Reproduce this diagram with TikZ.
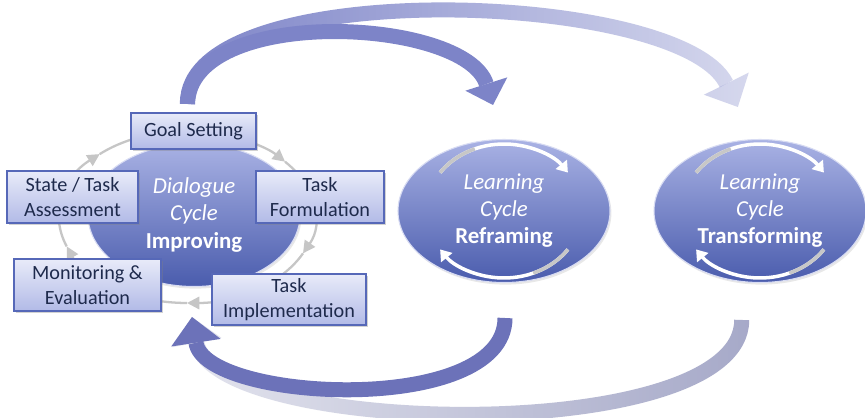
\documentclass[tikz,border=0pt]{standalone}
\usepackage{fontspec}
\setsansfont{Carlito}
\usetikzlibrary{arrows.meta, positioning, shapes.geometric, shadows, fadings}

\definecolor{cycblueA}{HTML}{A9B2E4}
\definecolor{cycblueB}{HTML}{4A5CAD}
\definecolor{boxtop}{HTML}{E8EBF9}
\definecolor{boxbot}{HTML}{B2BAE7}
\definecolor{boxline}{HTML}{5668B8}
\definecolor{boxtext}{HTML}{1E2A4C}
\definecolor{bigarrow}{HTML}{7D84C8}
\definecolor{bigarrowdk}{HTML}{6C72B9}
\definecolor{greyarrow}{HTML}{A2A5C6}
\definecolor{ringgrey}{HTML}{C6C6C6}

\tikzfading[name=fade east, left color=transparent!0, right color=transparent!68]
\tikzfading[name=fade west, left color=transparent!70, right color=transparent!5]

\begin{document}
\begin{tikzpicture}[
  font=\sffamily,
  x=1cm, y=1cm,
  cycle/.style={
    ellipse, minimum width=4.24cm, minimum height=2.86cm, inner sep=0pt,
    top color=cycblueA, bottom color=cycblueB, draw=white!55!cycblueA, line width=0.6pt,
    text=white, align=center, font=\sffamily\fontsize{13}{15.4}\selectfont,
    drop shadow={opacity=0.18, shadow xshift=0.8pt, shadow yshift=-1.2pt}
  },
  phase/.style={
    draw=boxline, line width=0.7pt, top color=boxtop, bottom color=boxbot,
    text=boxtext, align=center, inner sep=0pt,
    font=\sffamily\fontsize{11.5}{14}\selectfont,
    drop shadow={opacity=0.35, shadow xshift=1.2pt, shadow yshift=-1.2pt}
  },
  ring/.style={
    draw=ringgrey, line width=1.3pt,
    -{Triangle[width=7pt, length=7pt]}
  },
  loopline/.style={
    draw=white, line width=2pt,
    -{Triangle[width=8pt, length=6pt]}
  },
  loopgrey/.style={draw=black!22, line width=2pt},
  bigflow/.style={
    line width=0.3cm,
    -{Triangle[width=0.88cm, length=0.44cm, line width=0pt]}
  },
  bigflowwide/.style={
    line width=0.3cm,
    -{Triangle[width=1.0cm, length=0.52cm, line width=0pt]}
  }
]
\path[use as bounding box, fill=white] (0,0) rectangle (17.3,8.34);

% ----- anchor points of the big arrows -----
\coordinate (upstart) at (3.75, 6.26);
\coordinate (reftip)  at (9.86, 6.24);
\coordinate (trftip)  at (14.76, 6.20);
\coordinate (refout)  at (10.10, 1.98);
\coordinate (trfout)  at (14.84, 1.94);
\coordinate (backtip) at (3.84, 2.00);

% ----- big arrows (behind everything) -----
\draw[bigflowwide, draw=bigarrow, path fading=fade east]
  (upstart) .. controls (3.7, 8.85) and (13.6, 8.55) .. (trftip);
\draw[bigflow, draw=bigarrow]
  (upstart) .. controls (3.8, 8.25) and (9.3, 8.0) .. (reftip);
\draw[bigflowwide, draw=greyarrow, path fading=fade west]
  (trfout) .. controls (14.84, -0.6) and (4.3, -0.4) .. (backtip);
\draw[bigflowwide, draw=bigarrowdk]
  (refout) .. controls (10.1, 0.0) and (4.1, 0.3) .. (backtip);

% ----- the three cycles -----
\node[cycle] (dialogue)  at (3.88, 4.04)  {\textit{Dialogue}\\\textit{Cycle}\\\textbf{Improving}};
\node[cycle] (reframe)   at (10.08, 4.12) {\textit{Learning}\\\textit{Cycle}\\\textbf{Reframing}};
\node[cycle] (transform) at (15.20, 4.12) {\textit{Learning}\\\textit{Cycle}\\\textbf{Transforming}};

% small loops inside the learning cycles
\foreach \c in {reframe, transform} {
  \draw[loopline] ([shift={(145:1.56 and 1.34)}]\c.center)
    arc[start angle=145, end angle=35, x radius=1.56, y radius=1.34];
  \draw[loopgrey] ([shift={(145:1.56 and 1.34)}]\c.center)
    arc[start angle=145, end angle=112, x radius=1.56, y radius=1.34];
  \draw[loopline] ([shift={(-35:1.56 and 1.34)}]\c.center)
    arc[start angle=-35, end angle=-145, x radius=1.56, y radius=1.34];
  \draw[loopgrey] ([shift={(-35:1.56 and 1.34)}]\c.center)
    arc[start angle=-35, end angle=-68, x radius=1.56, y radius=1.34];
}

% ----- grey ring of the dialogue cycle -----
\coordinate (ringc) at (3.74, 4.00);
\foreach \a/\b in {133/40, 40/-25, -25/-90, -90/-160, 200/133}
  \draw[ring] ([shift={(\a:2.56 and 1.72)}]ringc)
    arc[start angle=\a, end angle=\b, x radius=2.56, y radius=1.72];

% ----- dialogue steps -----
\node[phase, minimum width=2.50cm, minimum height=0.72cm] (goal)    at (3.87, 5.72) {Goal Setting};
\node[phase, minimum width=2.62cm, minimum height=1.04cm] (assess)  at (1.45, 4.40) {State / Task\\Assessment};
\node[phase, minimum width=2.56cm, minimum height=1.04cm] (formul)  at (6.40, 4.40) {Task\\Formulation};
\node[phase, minimum width=2.94cm, minimum height=1.04cm] (monitor) at (1.75, 2.64) {Monitoring \&\\Evaluation};
\node[phase, minimum width=3.08cm, minimum height=1.02cm] (impl)    at (5.78, 2.35) {Task\\Implementation};

\end{tikzpicture}
\end{document}
